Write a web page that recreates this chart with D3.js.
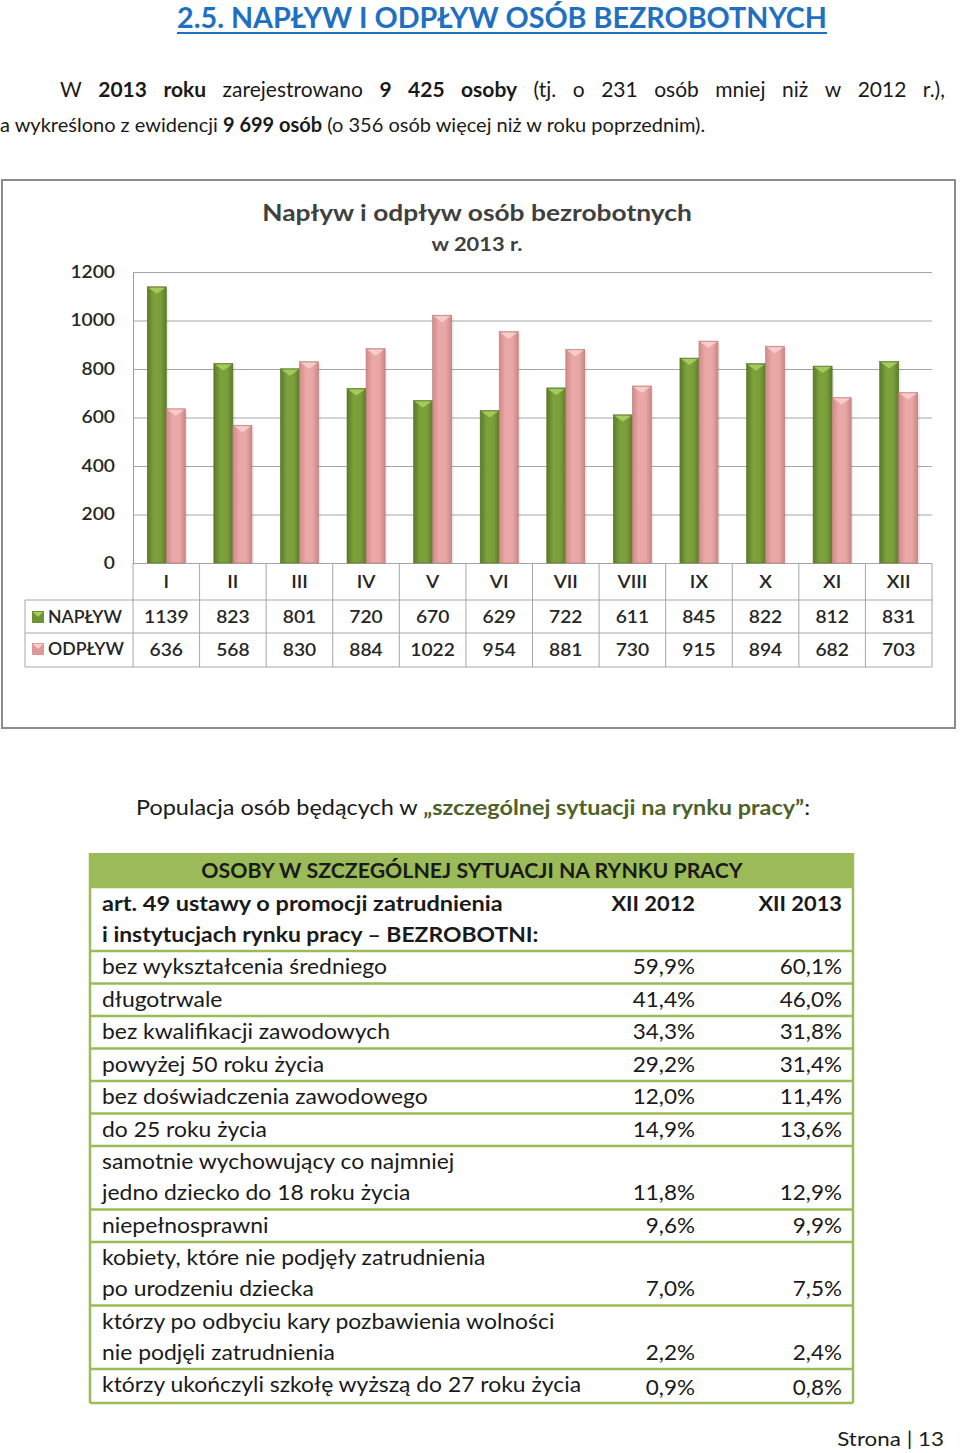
<!DOCTYPE html>
<html>
<head>
<meta charset="utf-8">
<script src="https://cdn.jsdelivr.net/npm/d3@7"></script>
<style>
  body { margin: 0; background: #fff; }
  svg { display: block; font-family: Lato, "Open Sans", sans-serif; }
</style>
</head>
<body>
<svg id="page" width="960" height="1453"></svg>
<script>
// chart data
const months = ["I", "II", "III", "IV", "V", "VI", "VII", "VIII", "IX", "X", "XI", "XII"];
const naplyw = [1139, 823, 801, 720, 670, 629, 722, 611, 845, 822, 812, 831];
const odplyw = [636, 568, 830, 884, 1022, 954, 881, 730, 915, 894, 682, 703];
const yTicks = [0, 200, 400, 600, 800, 1000, 1200];

// table data
const groups = [
  ["bez wykształcenia średniego"],
  ["długotrwale"],
  ["bez kwalifikacji zawodowych"],
  ["powyżej 50 roku życia"],
  ["bez doświadczenia zawodowego"],
  ["do 25 roku życia"],
  ["samotnie wychowujący co najmniej", "jedno dziecko do 18 roku życia"],
  ["niepełnosprawni"],
  ["kobiety, które nie podjęły zatrudnienia", "po urodzeniu dziecka"],
  ["którzy po odbyciu kary pozbawienia wolności", "nie podjęli zatrudnienia"],
  ["którzy ukończyli szkołę wyższą do 27 roku życia"]
];
const xii2012 = [59.9, 41.4, 34.3, 29.2, 12.0, 14.9, 11.8, 9.6, 7.0, 2.2, 0.9];
const xii2013 = [60.1, 46.0, 31.8, 31.4, 11.4, 13.6, 12.9, 9.9, 7.5, 2.4, 0.8];

const svg = d3.select("#page");
const pct = v => d3.format(".1f")(v).replace(".", ",") + "%";

// widen text a bit, the source font is wider than Lato
function stretch(sel, k) {
  sel.each(function () {
    const w = this.getComputedTextLength();
    d3.select(this).attr("textLength", w * k).attr("lengthAdjust", "spacingAndGlyphs");
  });
}

// ---------- heading ----------
svg.append("text")
  .attr("x", 502).attr("y", 28)
  .attr("text-anchor", "middle")
  .attr("font-size", 29).attr("font-weight", 700)
  .attr("fill", "#1f70c1")
  .attr("textLength", 650).attr("lengthAdjust", "spacingAndGlyphs")
  .text("2.5. NAPŁYW I ODPŁYW OSÓB BEZROBOTNYCH");
svg.append("line")
  .attr("x1", 177).attr("x2", 827).attr("y1", 33).attr("y2", 33)
  .attr("stroke", "#1f70c1").attr("stroke-width", 2);

// ---------- paragraph (first line justified) ----------
const line1 = [
  ["W", 0], ["2013", 1], ["roku", 1], ["zarejestrowano", 0], ["9", 1], ["425", 1], ["osoby", 1],
  ["(tj.", 0], ["o", 0], ["231", 0], ["osób", 0], ["mniej", 0], ["niż", 0], ["w", 0], ["2012", 0], ["r.),", 0]
];
const para = svg.append("g").attr("font-size", 21).attr("fill", "#1a1a1a");
const words = para.selectAll("text.w").data(line1).join("text")
  .attr("class", "w")
  .attr("y", 97)
  .attr("font-weight", d => d[1] ? 700 : 400)
  .text(d => d[0]);
const widths = [];
words.each(function () { widths.push(this.getComputedTextLength()); });
const gap = (945 - 60 - d3.sum(widths)) / (line1.length - 1);
let cx = 60;
words.attr("x", (d, i) => { const xx = cx; cx += widths[i] + gap; return xx; });

const l2 = para.append("text").attr("x", 0).attr("y", 132).attr("font-size", 20);
l2.append("tspan").text("a wykreślono z ewidencji ");
l2.append("tspan").attr("font-weight", 700).text("9 699 osób");
l2.append("tspan").text(" (o 356 osób więcej niż w roku poprzednim).");

// ---------- chart ----------
svg.append("rect")
  .attr("x", 2).attr("y", 180).attr("width", 953).attr("height", 548)
  .attr("fill", "#fff").attr("stroke", "#8c8c8c").attr("stroke-width", 2);

const t1 = svg.append("text")
  .attr("x", 477).attr("y", 221).attr("text-anchor", "middle")
  .attr("font-size", 23).attr("font-weight", 700).attr("fill", "#404040")
  .text("Napływ i odpływ osób bezrobotnych");
const t2 = svg.append("text")
  .attr("x", 477).attr("y", 251).attr("text-anchor", "middle")
  .attr("font-size", 19).attr("font-weight", 700).attr("fill", "#404040")
  .text("w 2013 r.");
stretch(t1, 1.145);
stretch(t2, 1.15);

const plotL = 133, plotR = 932, plotT = 272, base = 563;
const x = d3.scaleBand().domain(months).range([plotL, plotR]).padding(0);
const xs = d3.scaleBand().domain(["n", "o"]).range([0, x.bandwidth()]).paddingInner(0).paddingOuter(0.75);
const y = d3.scaleLinear().domain([0, 1200]).range([base, plotT]);

const defs = svg.append("defs");
function grad(id, stops) {
  const g = defs.append("linearGradient").attr("id", id).attr("x1", 0).attr("x2", 1).attr("y1", 0).attr("y2", 0);
  stops.forEach(s => g.append("stop").attr("offset", s[0]).attr("stop-color", s[1]));
}
grad("gGreen", [[0, "#5b7a27"], [0.35, "#7da23c"], [0.7, "#7b9e3a"], [1, "#5d7c29"]]);
grad("gPink", [[0, "#cf8a89"], [0.35, "#eaa9a8"], [0.7, "#e8a6a5"], [1, "#cc8786"]]);

// grid
const yAxis = d3.axisLeft(y).tickValues(yTicks).tickFormat(d3.format("d"))
  .tickSize(-(plotR - plotL)).tickPadding(18);
const ga = svg.append("g").attr("transform", `translate(${plotL},0)`).call(yAxis);
ga.select(".domain").attr("stroke", "#9a9a9a");
ga.selectAll(".tick line").attr("stroke", "#a6a6a6");
ga.selectAll(".tick text").attr("font-size", 17).attr("fill", "#262626")
  .attr("font-family", "Lato, sans-serif").attr("font-weight", 600);
stretch(ga.selectAll(".tick text"), 1.13);

// bars
const series = [
  { key: "n", values: naplyw, fill: "url(#gGreen)", cap: "#a6cf5f", edge: "#55722a" },
  { key: "o", values: odplyw, fill: "url(#gPink)", cap: "#f7d0cf", edge: "#b97a79" }
];
const bw = xs.bandwidth();
series.forEach(s => {
  const g = svg.append("g");
  g.selectAll("rect.shadow").data(s.values).join("rect")
    .attr("x", (d, i) => x(months[i]) + xs(s.key) + 2)
    .attr("y", d => y(d) + 2)
    .attr("width", bw).attr("height", d => base - y(d) - 2)
    .attr("fill", "#000").attr("opacity", 0.08);
  g.selectAll("rect.bar").data(s.values).join("rect")
    .attr("x", (d, i) => x(months[i]) + xs(s.key))
    .attr("y", d => y(d))
    .attr("width", bw).attr("height", d => base - y(d))
    .attr("fill", s.fill).attr("stroke", s.edge).attr("stroke-width", 0.6);
  g.selectAll("path.cap").data(s.values).join("path")
    .attr("d", (d, i) => {
      const x0 = x(months[i]) + xs(s.key), y0 = y(d);
      return `M${x0 + 1},${y0 + 1}L${x0 + bw - 1},${y0 + 1}L${x0 + bw / 2},${y0 + 7}Z`;
    })
    .attr("fill", s.cap).attr("opacity", 0.9);
});

// data table
const rowY = [563, 600, 633, 667];
const tb = svg.append("g").attr("stroke", "#a6a6a6").attr("stroke-width", 1);
tb.selectAll("line.h").data(rowY.slice(1)).join("line")
  .attr("x1", 25).attr("x2", plotR).attr("y1", d => d).attr("y2", d => d);
tb.append("line").attr("x1", 25).attr("x2", 25).attr("y1", 600).attr("y2", 667);
tb.selectAll("line.v").data(months.concat(["end"])).join("line")
  .attr("x1", (d, i) => plotL + i * x.bandwidth()).attr("x2", (d, i) => plotL + i * x.bandwidth())
  .attr("y1", base).attr("y2", 667);

const tt = svg.append("g").attr("font-size", 17).attr("fill", "#262626")
  .attr("font-weight", 600).attr("text-anchor", "middle");
tt.selectAll("text.m").data(months).join("text")
  .attr("x", d => x(d) + x.bandwidth() / 2).attr("y", 588).text(d => d);
tt.selectAll("text.n").data(naplyw).join("text")
  .attr("x", (d, i) => x(months[i]) + x.bandwidth() / 2).attr("y", 623).text(d => d);
tt.selectAll("text.o").data(odplyw).join("text")
  .attr("x", (d, i) => x(months[i]) + x.bandwidth() / 2).attr("y", 656).text(d => d);
stretch(tt.selectAll("text"), 1.13);

const legend = [["NAPŁYW", "#6f9334", "#a6cf5f", 611], ["ODPŁYW", "#dc9998", "#f7d0cf", 643]];
legend.forEach(l => {
  svg.append("rect").attr("x", 32).attr("y", l[3]).attr("width", 12).attr("height", 12).attr("fill", l[1]);
  svg.append("path").attr("d", `M33,${l[3] + 1}L43,${l[3] + 1}L38,${l[3] + 6}Z`).attr("fill", l[2]);
  const lt = svg.append("text").attr("x", 48).attr("y", l[3] + 12).attr("font-size", 17).attr("font-weight", 600)
    .attr("fill", "#262626").text(l[0]);
  stretch(lt, 1.04);
});

// ---------- second section ----------
const pop = svg.append("text").attr("x", 136).attr("y", 815).attr("font-size", 21).attr("fill", "#1a1a1a")
  .attr("textLength", 674).attr("lengthAdjust", "spacingAndGlyphs");
pop.append("tspan").text("Populacja osób będących w ");
pop.append("tspan").attr("font-weight", 700).attr("fill", "#4f6228").text("„szczególnej sytuacji na rynku pracy”");
pop.append("tspan").text(":");

const tL = 90, tR = 853, green = "#9bbb59";
svg.append("rect").attr("x", tL).attr("y", 853).attr("width", tR - tL).attr("height", 34).attr("fill", green);
const th = svg.append("text").attr("x", 472).attr("y", 878).attr("text-anchor", "middle")
  .attr("font-size", 21).attr("font-weight", 700).attr("fill", "#1a1a1a")
  .text("OSOBY W SZCZEGÓLNEJ SYTUACJI NA RYNKU PRACY");
stretch(th, 1.015);

const c1 = 695, c2 = 842, tx = 102;
const hdr = svg.append("g").attr("font-size", 21).attr("font-weight", 700).attr("fill", "#1a1a1a");
const h1 = hdr.append("text").attr("x", tx).attr("y", 911).text("art. 49 ustawy o promocji zatrudnienia");
const h2 = hdr.append("text").attr("x", tx).attr("y", 942).text("i instytucjach rynku pracy – BEZROBOTNI:");
stretch(h1, 1.12);
stretch(h2, 1.09);
stretch(hdr.append("text").attr("x", c1).attr("y", 911).attr("text-anchor", "end").text("XII 2012"), 1.04);
stretch(hdr.append("text").attr("x", c2).attr("y", 911).attr("text-anchor", "end").text("XII 2013"), 1.04);

// row positions from line counts
const rowTops = [];
let ry = 951;
groups.forEach(g => { rowTops.push(ry); ry += 32.5 + (g.length - 1) * 31; });
rowTops.push(1403);

const body = svg.append("g").attr("font-size", 21).attr("fill", "#1a1a1a");
groups.forEach((g, i) => {
  g.forEach((t, j) => {
    body.append("text").attr("class", "lab").attr("x", tx).attr("y", rowTops[i] + 23 + j * 31).text(t);
  });
  const vy = rowTops[i] + 23 + (g.length - 1) * 31 + (i === groups.length - 1 ? 3 : 0);
  body.append("text").attr("class", "val").attr("x", c1).attr("y", vy).attr("text-anchor", "end").text(pct(xii2012[i]));
  body.append("text").attr("class", "val").attr("x", c2).attr("y", vy).attr("text-anchor", "end").text(pct(xii2013[i]));
});
stretch(body.selectAll("text.lab"), 1.09);
stretch(body.selectAll("text.val"), 1.07);

const borders = svg.append("g").attr("stroke", green).attr("stroke-width", 2.5);
borders.selectAll("line.r").data([887].concat(rowTops)).join("line")
  .attr("x1", tL).attr("x2", tR).attr("y1", d => d).attr("y2", d => d);
borders.append("line").attr("x1", tL).attr("x2", tL).attr("y1", 853).attr("y2", 1403);
borders.append("line").attr("x1", tR).attr("x2", tR).attr("y1", 853).attr("y2", 1403);

const foot = svg.append("text").attr("x", 944).attr("y", 1446).attr("text-anchor", "end")
  .attr("font-size", 20).attr("fill", "#1a1a1a").text("Strona | 13");
stretch(foot, 1.12);
</script>
</body>
</html>
